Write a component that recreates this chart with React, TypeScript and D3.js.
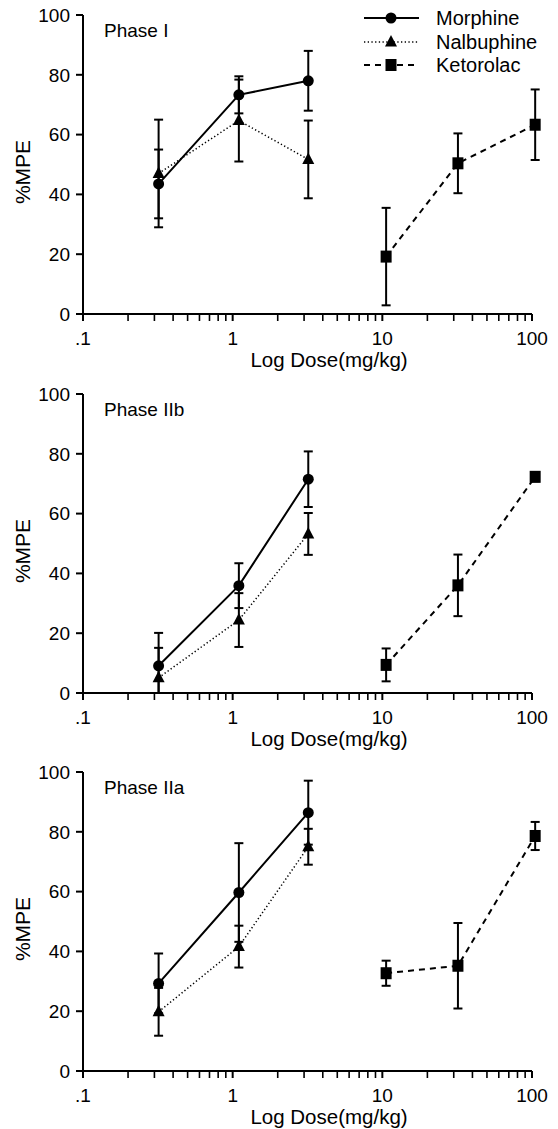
import React from "react";
import * as d3 from "d3";

const phases = ["Phase I", "Phase IIb", "Phase IIa"];
const opioidDose = [0.32, 1.1, 3.2];
const ketorolacDose = [10.6, 32, 105];

const morphineMean = [[43.5, 73.3, 78], [9.1, 35.9, 71.5], [29.3, 59.7, 86.4]];
const morphineErr = [[11.5, 6.2, 10], [11, 7.5, 9.3], [10, 16.5, 10.7]];
const nalbuphineMean = [[47, 64.7, 51.7], [5.1, 24.4, 53.2], [19.8, 41.6, 75]];
const nalbuphineErr = [[18, 13.7, 13], [10, 9, 7], [8, 7, 6]];
const ketorolacMean = [[19.2, 50.4, 63.3], [9.4, 36, 72.3], [32.7, 35.2, 78.6]];
const ketorolacErr = [[16.3, 10, 11.8], [5.5, 10.3, 1.5], [4.2, 14.3, 4.7]];

const yTicks = [0, 20, 40, 60, 80, 100];
const xMajor = [0.1, 1, 10, 100];
const xMajorLabels = [".1", "1", "10", "100"];
const legendNames = ["Morphine", "Nalbuphine", "Ketorolac"];

const FONT = "'Liberation Sans', Arial, Helvetica, sans-serif";
const W = 558;
const H = 1129;
const X0 = 83;
const X1 = 532;
const PANEL_TOP = [15, 394, 772];
const PANEL_H = 299;

type Series = {
  name: string;
  dose: number[];
  mean: number[][];
  err: number[][];
  dash: string;
  sw: number;
  marker: "circle" | "triangle" | "square";
};

const series: Series[] = [
  { name: legendNames[0], dose: opioidDose, mean: morphineMean, err: morphineErr, dash: "none", sw: 2, marker: "circle" },
  { name: legendNames[1], dose: opioidDose, mean: nalbuphineMean, err: nalbuphineErr, dash: "1.3 2.4", sw: 1.5, marker: "triangle" },
  { name: legendNames[2], dose: ketorolacDose, mean: ketorolacMean, err: ketorolacErr, dash: "6 5", sw: 2, marker: "square" },
];

function Marker({ kind, x, y }: { kind: string; x: number; y: number }) {
  if (kind === "circle") return <circle cx={x} cy={y} r={5.5} fill="#000" />;
  if (kind === "triangle")
    return <path d={`M${x},${y - 7}L${x + 6},${y + 4.5}L${x - 6},${y + 4.5}Z`} fill="#000" />;
  return <rect x={x - 5.5} y={y - 6} width={11} height={12} fill="#000" />;
}

function minorTicks(): number[] {
  const out: number[] = [];
  for (const base of [0.1, 1, 10]) {
    for (let k = 2; k <= 9; k++) out.push(base * k);
  }
  return out;
}

function Panel({ idx }: { idx: number }) {
  const top = PANEL_TOP[idx];
  const x = d3.scaleLog().domain([0.1, 100]).range([X0, X1]);
  const y = d3.scaleLinear().domain([0, 100]).range([top + PANEL_H, top]);
  const line = d3
    .line<[number, number]>()
    .x((d) => x(d[0]))
    .y((d) => y(d[1]));
  const y0 = y(0);
  return (
    <g>
      <line x1={X0} x2={X0} y1={y(100)} y2={y0 + 7} stroke="#000" strokeWidth={2} />
      <line x1={X0 - 7} x2={X1} y1={y0} y2={y0} stroke="#000" strokeWidth={2} />
      {yTicks.map((t) => (
        <g key={t}>
          <line x1={X0 - 7} x2={X0} y1={y(t)} y2={y(t)} stroke="#000" strokeWidth={2} />
          <text x={X0 - 13} y={y(t)} dy="0.36em" textAnchor="end" fontSize={19} fontFamily={FONT}>
            {t}
          </text>
        </g>
      ))}
      {xMajor.map((t, i) => (
        <g key={t}>
          <line x1={x(t)} x2={x(t)} y1={y0} y2={y0 + 7} stroke="#000" strokeWidth={2} />
          <text x={x(t)} y={y0 + 31} textAnchor="middle" fontSize={19} fontFamily={FONT}>
            {xMajorLabels[i]}
          </text>
        </g>
      ))}
      {minorTicks().map((t) => (
        <line key={t} x1={x(t)} x2={x(t)} y1={y0} y2={y0 + 7} stroke="#000" strokeWidth={1.6} />
      ))}
      <text x={329} y={top + 352} textAnchor="middle" fontSize={20.5} fontFamily={FONT}>
        Log Dose(mg/kg)
      </text>
      <text
        transform={`translate(22,${top + 157}) rotate(-90)`}
        dy="0.36em"
        textAnchor="middle"
        fontSize={21}
        fontFamily={FONT}
      >
        %MPE
      </text>
      <text x={104} y={top + 22} fontSize={19} fontFamily={FONT}>
        {phases[idx]}
      </text>
      {series.map((s) => {
        const pts: [number, number][] = s.dose.map((d, j) => [d, s.mean[idx][j]]);
        return (
          <g key={s.name}>
            <path d={line(pts) || ""} fill="none" stroke="#000" strokeWidth={s.sw} strokeDasharray={s.dash} />
            {pts.map((p, j) => {
              const e = s.err[idx][j];
              const hi = y(Math.min(100, p[1] + e));
              const lo = y(Math.max(0, p[1] - e));
              const cx = x(p[0]);
              return (
                <g key={j}>
                  <line x1={cx} x2={cx} y1={hi} y2={lo} stroke="#000" strokeWidth={2} />
                  <line x1={cx - 4.5} x2={cx + 4.5} y1={hi} y2={hi} stroke="#000" strokeWidth={2} />
                  {p[1] - e > 0 && (
                    <line x1={cx - 4.5} x2={cx + 4.5} y1={lo} y2={lo} stroke="#000" strokeWidth={2} />
                  )}
                </g>
              );
            })}
            {pts.map((p, j) => (
              <Marker key={"m" + j} kind={s.marker} x={x(p[0])} y={y(p[1])} />
            ))}
          </g>
        );
      })}
    </g>
  );
}

function Legend() {
  const rows = [18, 42, 65];
  return (
    <g>
      {series.map((s, i) => (
        <g key={s.name}>
          <line x1={364} x2={419} y1={rows[i]} y2={rows[i]} stroke="#000" strokeWidth={s.sw} strokeDasharray={s.dash} />
          <Marker kind={s.marker} x={391} y={rows[i]} />
          <text x={436} y={rows[i]} dy="0.36em" fontSize={20} fontFamily={FONT}>
            {s.name}
          </text>
        </g>
      ))}
    </g>
  );
}

export default function App() {
  return (
    <svg
      width={W}
      height={H}
      viewBox={`0 0 ${W} ${H}`}
      style={{ position: "absolute", left: 0, top: 0, background: "#fff" }}
    >
      <rect width={W} height={H} fill="#fff" />
      {phases.map((p, i) => (
        <Panel key={p} idx={i} />
      ))}
      <Legend />
    </svg>
  );
}
